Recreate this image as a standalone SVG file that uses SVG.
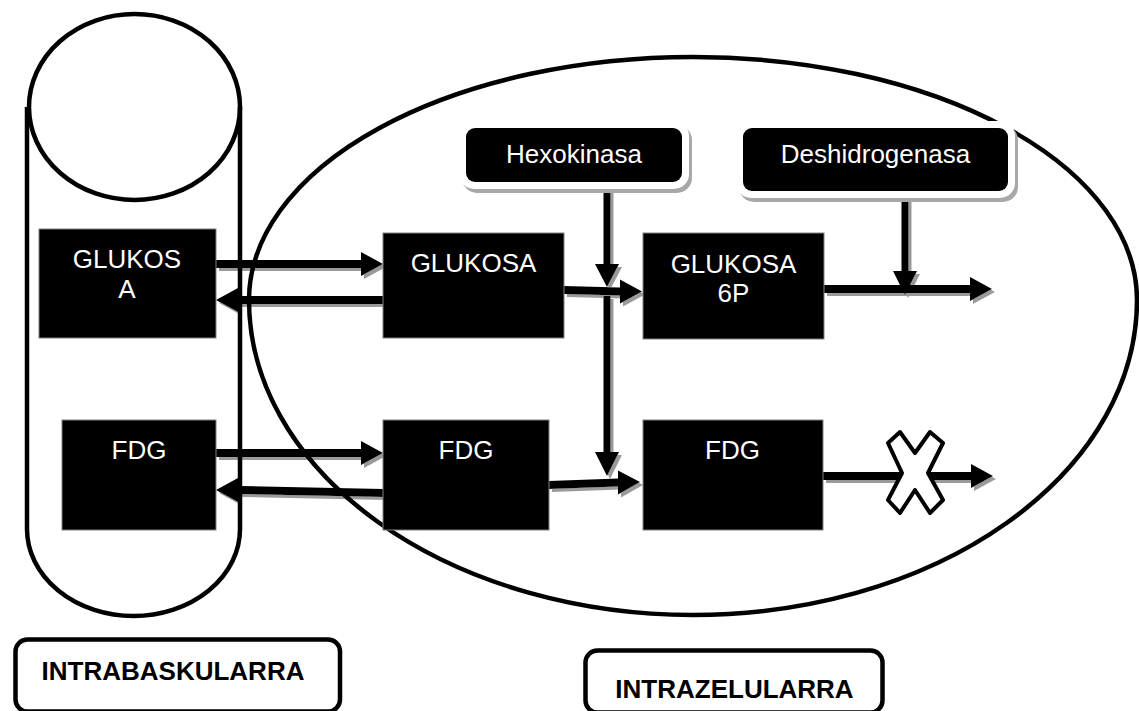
<svg xmlns="http://www.w3.org/2000/svg" width="1139" height="711" viewBox="0 0 1139 711">
<style>
  .outline{fill:none;stroke:#000;stroke-width:4.5}
  .box{fill:#000;stroke:#808080;stroke-width:1}
  .btxt{font-family:"Liberation Sans",Arial,Helvetica,sans-serif;font-size:26px;fill:#fff;text-anchor:middle}
  .arrow{fill:#000}
  .lbl{fill:#fff;stroke:#000;stroke-width:4.5}
  .ltxt{font-family:"Liberation Sans",Arial,Helvetica,sans-serif;font-size:26px;font-weight:bold;fill:#000;text-anchor:middle}
</style>
<defs>
  <filter id="shadow" x="-10%" y="-30%" width="130%" height="180%">
    <feOffset in="SourceAlpha" dx="3" dy="3" result="off"/>
    <feFlood flood-color="#9a9a9a" result="col"/>
    <feComposite in="col" in2="off" operator="in" result="sh"/>
    <feMerge><feMergeNode in="sh"/><feMergeNode in="SourceGraphic"/></feMerge>
  </filter>
</defs>
<rect width="1139" height="711" fill="#fff"/>

<g id="connectors" filter="url(#shadow)">
  <polygon class="arrow" points="216,260 361,260 361,252 383,264 361,276 361,268 216,268"/>
  <polygon class="arrow" points="383,296 238,296 238,288 216,300 238,312 238,304 383,304"/>
  <polygon class="arrow" points="564,286 620,287.5 620,279.5 642,291.5 620,303.5 620,295.5 564,294"/>
  <polygon class="arrow" points="824,285 970,285 970,277 992,289 970,301 970,293 824,293"/>
  <polygon class="arrow" points="216,449 361,449 361,441 383,453 361,465 361,457 216,457"/>
  <polygon class="arrow" points="383,489 238,486 238,478 216,490 238,502 238,494 383,497"/>
  <polygon class="arrow" points="549,481 618,478.5 618,470.5 640,482 618,494.5 618,486.5 549,489"/>
  <polygon class="arrow" points="823,472 971,472 971,464 993,476 971,488 971,480 823,480"/>
  <polygon class="arrow" points="603.5,190 610.5,190 610.5,264 619,264 607,287 595,264 603.5,264"/>
  <polygon class="arrow" points="603.5,296 610.5,296 610.5,452 619,452 607,476 595,452 603.5,452"/>
  <polygon class="arrow" points="901.5,195 908.5,195 908.5,271 917,271 905,295 893,271 901.5,271"/>
</g>

<g id="intrazelular-cell">
  <path class="outline" stroke-width="5" d="M249,300 A444,243 0 0 1 1137,300 A444,315 0 0 1 249,300 Z"/>
</g>

<g id="intrabaskular-vessel">
  <path class="outline" stroke-width="4" d="M27,107 V529 A106.5,87 0 0 0 240,529 V107"/>
  <ellipse class="outline" cx="134.5" cy="107" rx="105.5" ry="93"/>
</g>

<g id="block-x">
  <polygon points="888,443 900,432 915,453 930,432 943,443 928,473 943,500 930,513 915,490 900,513 888,500 902,473" fill="#fff" stroke="#000" stroke-width="4" stroke-linejoin="round"/>
</g>

<g id="glukosa-intrabaskular">
  <rect class="box" x="39" y="229" width="177" height="109"/>
  <text class="btxt" x="127" y="268">GLUKOS</text>
  <text class="btxt" x="127" y="298">A</text>
</g>
<g id="glukosa-intrazelular">
  <rect class="box" x="383" y="233" width="181" height="105"/>
  <text class="btxt" x="473.5" y="272">GLUKOSA</text>
</g>
<g id="glukosa-6p">
  <rect class="box" x="643" y="233" width="181" height="106"/>
  <text class="btxt" x="733.5" y="273">GLUKOSA</text>
  <text class="btxt" x="733.5" y="302">6P</text>
</g>
<g id="fdg-intrabaskular">
  <rect class="box" x="62" y="420" width="154" height="110"/>
  <text class="btxt" x="139" y="459">FDG</text>
</g>
<g id="fdg-intrazelular">
  <rect class="box" x="383" y="420" width="166" height="110"/>
  <text class="btxt" x="466" y="459">FDG</text>
</g>
<g id="fdg-6p">
  <rect class="box" x="643" y="420" width="180" height="110"/>
  <text class="btxt" x="732.5" y="459">FDG</text>
</g>

<g id="hexokinasa">
  <rect x="462" y="125" width="230" height="68" rx="15" fill="#a8a8a8"/>
  <rect x="459" y="121" width="230" height="68" rx="15" fill="#fff"/>
  <rect x="466" y="128" width="216" height="54" rx="9" fill="#000"/>
  <text class="btxt" x="574" y="163">Hexokinasa</text>
</g>
<g id="deshidrogenasa">
  <rect x="739" y="125" width="279" height="77" rx="15" fill="#a8a8a8"/>
  <rect x="736" y="121" width="279" height="77" rx="15" fill="#fff"/>
  <rect x="743" y="128" width="265" height="63" rx="9" fill="#000"/>
  <text class="btxt" x="875.5" y="163">Deshidrogenasa</text>
</g>

<g id="label-intrabaskularra">
  <rect class="lbl" x="15.5" y="639.5" width="324.5" height="72" rx="12"/>
  <text class="ltxt" x="173" y="680">INTRABASKULARRA</text>
</g>
<g id="label-intrazelularra">
  <rect class="lbl" x="585.5" y="650.5" width="297" height="62" rx="12"/>
  <text class="ltxt" x="734.5" y="698">INTRAZELULARRA</text>
</g>
</svg>
